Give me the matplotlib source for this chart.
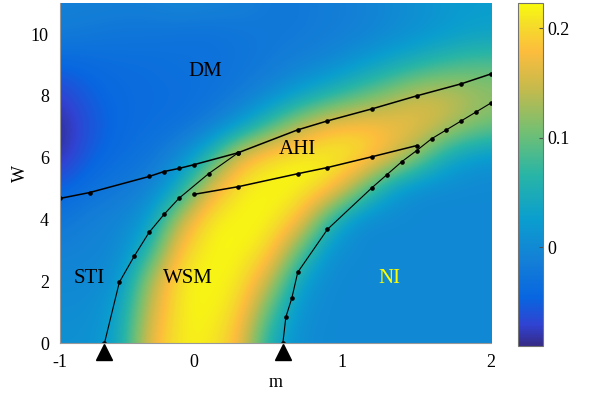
import numpy as np
import matplotlib
matplotlib.use("Agg")
import matplotlib.pyplot as plt
from matplotlib.colors import LinearSegmentedColormap

plt.rcParams['font.family'] = ['Liberation Serif', 'DejaVu Serif']

# parula-like colormap
parula_colors = [
    (0.2081, 0.1663, 0.5292),
    (0.1900, 0.2600, 0.8200),
    (0.0300, 0.4000, 0.8800),
    (0.0780, 0.5000, 0.8400),
    (0.0400, 0.6200, 0.8100),
    (0.1600, 0.7100, 0.6500),
    (0.4500, 0.7500, 0.4500),
    (0.7700, 0.7300, 0.3000),
    (0.9900, 0.7400, 0.2400),
    (0.9600, 0.8700, 0.1600),
    (0.9763, 0.9831, 0.0538),
]
parula_pos = [0.0, 0.06, 0.14, 0.25, 0.37, 0.5, 0.625, 0.75, 0.86, 0.94, 1.0]
parula = LinearSegmentedColormap.from_list("parula", list(zip(parula_pos, parula_colors)))

# field values on a coarse grid
m_grid = [-0.9, -0.7, -0.5, -0.3, -0.1, 0.1, 0.3, 0.5, 0.7, 0.9, 1.1, 1.3, 1.5, 1.7, 1.9, 2.1]
W_grid = [0, 1, 2, 3, 4, 5, 6, 7, 8, 9, 10, 11]
field = [
    [0.01, 0.01, 0.035, 0.17, 0.215, 0.215, 0.18, 0.05, 0.005, 0.0, 0.0, 0.0, 0.0, 0.0, 0.0, 0.0],
    [0.005, 0.005, 0.03, 0.15, 0.215, 0.22, 0.2, 0.09, 0.01, 0.0, 0.0, 0.0, 0.0, 0.0, 0.0, 0.0],
    [0.0, 0.0, 0.01, 0.13, 0.215, 0.22, 0.215, 0.15, 0.03, 0.0, 0.0, 0.0, 0.0, 0.0, 0.0, 0.0],
    [-0.01, -0.005, 0.0, 0.06, 0.19, 0.22, 0.22, 0.205, 0.10, 0.01, 0.0, 0.0, 0.0, 0.0, 0.0, 0.0],
    [-0.025, -0.01, -0.005, 0.02, 0.14, 0.215, 0.22, 0.22, 0.19, 0.07, 0.0, 0.0, 0.0, 0.0, 0.0, 0.0],
    [-0.05, -0.03, -0.02, -0.01, 0.04, 0.16, 0.215, 0.22, 0.22, 0.20, 0.12, 0.03, 0.0, 0.0, 0.0, 0.0],
    [-0.085, -0.05, -0.035, -0.025, 0.0, 0.06, 0.17, 0.21, 0.22, 0.22, 0.21, 0.17, 0.11, 0.04, 0.015, 0.01],
    [-0.09, -0.06, -0.04, -0.035, -0.03, -0.015, 0.02, 0.08, 0.14, 0.18, 0.19, 0.18, 0.17, 0.14, 0.11, 0.10],
    [-0.075, -0.05, -0.04, -0.035, -0.035, -0.03, -0.02, 0.0, 0.03, 0.06, 0.09, 0.12, 0.15, 0.15, 0.13, 0.12],
    [-0.045, -0.04, -0.035, -0.035, -0.03, -0.03, -0.025, -0.02, -0.01, 0.0, 0.02, 0.04, 0.06, 0.08, 0.09, 0.09],
    [-0.015, -0.02, -0.025, -0.025, -0.03, -0.03, -0.025, -0.02, -0.02, -0.015, -0.01, 0.0, 0.01, 0.02, 0.03, 0.03],
    [-0.01, -0.01, -0.01, -0.01, 0.0, -0.005, -0.01, -0.02, -0.02, -0.015, -0.01, 0.0, 0.01, 0.02, 0.025, 0.025],
]

# phase boundaries
line1_m = [-0.9, -0.7, -0.3, -0.2, -0.1, 0.0, 0.3, 0.7, 0.9, 1.2, 1.5, 1.8, 2.0]
line1_W = [4.68, 4.87, 5.39, 5.55, 5.65, 5.77, 6.16, 6.90, 7.19, 7.58, 8.0, 8.39, 8.71]
line2_m = [-0.6, -0.5, -0.4, -0.3, -0.2, -0.1, 0.1, 0.3]
line2_W = [0.0, 1.97, 2.81, 3.58, 4.16, 4.68, 5.48, 6.16]
line3_m = [0.6, 0.62, 0.66, 0.7, 0.9, 1.2, 1.3, 1.4, 1.5, 1.6, 1.7, 1.8, 1.9, 2.0]
line3_W = [0.0, 0.84, 1.45, 2.29, 3.68, 5.03, 5.45, 5.87, 6.23, 6.61, 6.90, 7.19, 7.48, 7.77]
line4_m = [0.0, 0.3, 0.7, 0.9, 1.2, 1.5]
line4_W = [4.81, 5.06, 5.48, 5.68, 6.03, 6.39]
triangle_m = [-0.6, 0.6]

labels = ["DM", "AHI", "STI", "WSM", "NI"]
label_m = [0.08, 0.70, -0.70, -0.04, 1.32]
label_W = [8.8, 6.26, 2.1, 2.1, 2.1]
label_colors = ["black", "black", "black", "black", "yellow"]

fig = plt.figure(figsize=(5.93, 3.97), dpi=100)
ax = fig.add_axes([0.101, 0.136, 0.727, 0.856])

dm = m_grid[1] - m_grid[0]
dW = W_grid[1] - W_grid[0]
im = ax.imshow(np.array(field), origin="lower", aspect="auto", cmap=parula,
               extent=[m_grid[0] - dm / 2, m_grid[-1] + dm / 2, W_grid[0] - dW / 2, W_grid[-1] + dW / 2],
               interpolation="bicubic", interpolation_stage="data", vmin=-0.09, vmax=0.223)

ax.plot(line1_m, line1_W, color="black", lw=1.1, marker="o", ms=2.3)
ax.plot(line2_m, line2_W, color="black", lw=0.8, marker="o", ms=2.3)
ax.plot(line3_m, line3_W, color="black", lw=0.8, marker="o", ms=2.3)
ax.plot(line4_m, line4_W, color="black", lw=1.1, marker="o", ms=2.3)
ax.plot(triangle_m, [-0.29] * len(triangle_m), linestyle="none", marker="^",
        ms=11, color="black", clip_on=False, zorder=5)

for txt, x, y, c in zip(labels, label_m, label_W, label_colors):
    ax.text(x, y, txt, color=c, fontsize=15, ha="center", va="center")

ax.set_xlim(-0.9, 2.0)
ax.set_ylim(0, 11)
ax.set_xticks([-0.9, 0, 1, 2])
ax.set_xticklabels(["-1", "0", "1", "2"])
ax.set_yticks([0, 2, 4, 6, 8, 10])
ax.tick_params(length=0, labelsize=13, pad=8)
ax.set_xlabel("m", fontsize=13, labelpad=2)
ax.set_ylabel("W", fontsize=13, labelpad=1)
for s in ["top", "right"]:
    ax.spines[s].set_visible(False)
for s in ["left", "bottom"]:
    ax.spines[s].set_color("0.6")

cax = fig.add_axes([0.8735, 0.1285, 0.0422, 0.864])
cb = fig.colorbar(im, cax=cax)
cb.set_ticks([0, 0.1, 0.2])
cb.set_ticklabels(["0", "0.1", "0.2"])
cb.outline.set_edgecolor("0.45")
cax.tick_params(direction="in", length=3, labelsize=13, color="0.3")

fig.savefig("out.png", dpi=100)
